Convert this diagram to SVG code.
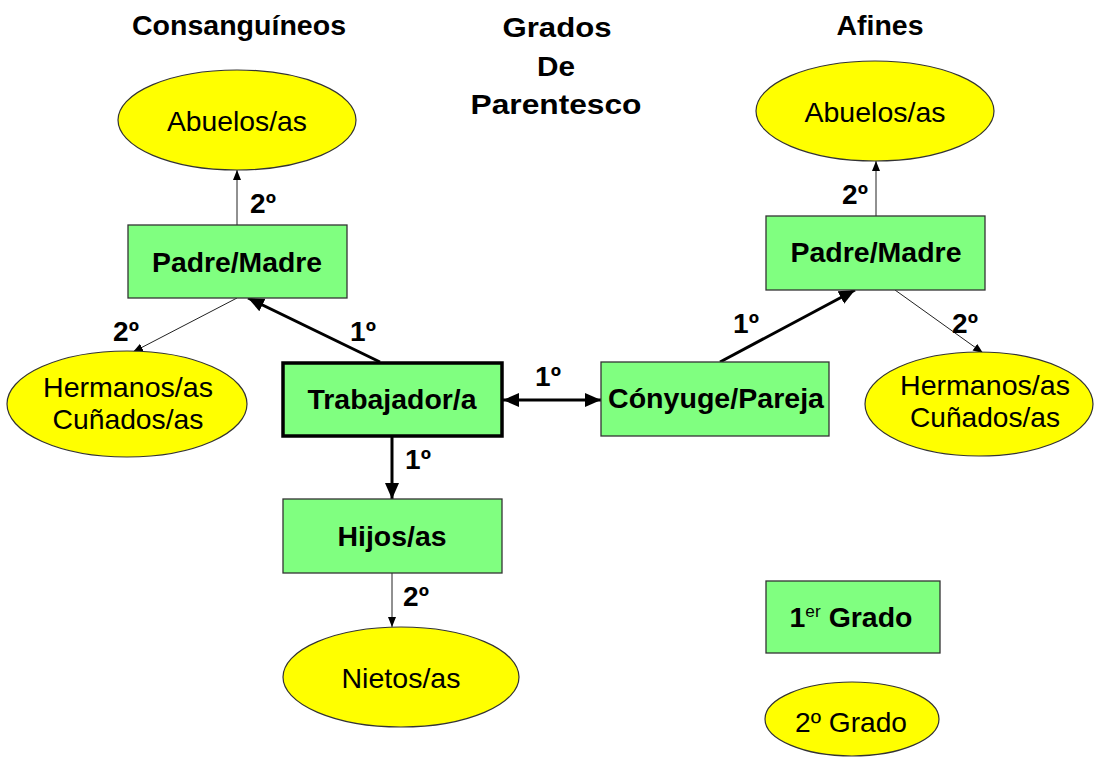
<svg xmlns="http://www.w3.org/2000/svg" width="1096" height="760" viewBox="0 0 1096 760">
<style>
text{font-family:"Liberation Sans",Arial,sans-serif;fill:#000;text-anchor:middle}
.t{font-size:28px;font-weight:bold}
.n{font-size:28px}
.nb{font-size:28px;font-weight:bold}
.lb{font-size:28px;font-weight:bold}
.box{fill:#80FF80;stroke:#333;stroke-width:1.3}
.ell{fill:#FFFF00;stroke:#333;stroke-width:1.2}
.thin{stroke:#222;stroke-width:1;fill:none}
.thick{stroke:#000;stroke-width:3;fill:none}
</style>
<defs>
<marker id="ah" markerUnits="userSpaceOnUse" markerWidth="12" markerHeight="10" refX="10" refY="4" orient="auto"><path d="M0,0 L10,4 L0,8 z" fill="#000"/></marker>
<marker id="AH" markerUnits="userSpaceOnUse" markerWidth="18" markerHeight="16" refX="16" refY="7" orient="auto-start-reverse"><path d="M0,0 L16,7 L0,14 z" fill="#000"/></marker>
</defs>
<rect width="1096" height="760" fill="#fff"/>
<g id="titles">
<text class="t" x="239" y="35" textLength="214" lengthAdjust="spacingAndGlyphs">Consanguíneos</text>
<text class="t" x="557" y="37" textLength="109" lengthAdjust="spacingAndGlyphs">Grados</text>
<text class="t" x="556" y="76" textLength="38" lengthAdjust="spacingAndGlyphs">De</text>
<text class="t" x="556" y="114" textLength="171" lengthAdjust="spacingAndGlyphs">Parentesco</text>
<text class="t" x="880" y="35" textLength="87" lengthAdjust="spacingAndGlyphs">Afines</text>
</g>
<g id="connectors">
<path class="thin" d="M237,225 L237,170" marker-end="url(#ah)"/>
<path class="thin" d="M237,298 L133,352" marker-end="url(#ah)"/>
<path class="thick" d="M380,362 L248,298" marker-end="url(#AH)"/>
<path class="thick" d="M503,400 L601,400" marker-start="url(#AH)" marker-end="url(#AH)"/>
<path class="thick" d="M392,437 L392,499" marker-end="url(#AH)"/>
<path class="thin" d="M392,573 L392,627" marker-end="url(#ah)"/>
<path class="thick" d="M720,362 L855,290" marker-end="url(#AH)"/>
<path class="thin" d="M876,216 L876,161" marker-end="url(#ah)"/>
<path class="thin" d="M895,290 L983,353" marker-end="url(#ah)"/>
<text class="lb" x="263" y="213">2º</text>
<text class="lb" x="126" y="341">2º</text>
<text class="lb" x="363" y="341">1º</text>
<text class="lb" x="548" y="386">1º</text>
<text class="lb" x="418" y="469">1º</text>
<text class="lb" x="416" y="606">2º</text>
<text class="lb" x="855" y="204">2º</text>
<text class="lb" x="746" y="333">1º</text>
<text class="lb" x="965" y="333">2º</text>
</g>
<g id="abuelos-c"><ellipse class="ell" cx="237" cy="120" rx="119" ry="50"/><text class="n" x="237" y="131" textLength="140" lengthAdjust="spacingAndGlyphs">Abuelos/as</text></g>
<g id="padre-c"><rect class="box" x="128" y="225" width="219" height="73"/><text class="nb" x="237" y="272" textLength="170" lengthAdjust="spacingAndGlyphs">Padre/Madre</text></g>
<g id="hermanos-c"><ellipse class="ell" cx="127" cy="404" rx="120" ry="53"/><text class="n" x="128" y="397" textLength="170" lengthAdjust="spacingAndGlyphs">Hermanos/as</text><text class="n" x="128" y="429" textLength="151" lengthAdjust="spacingAndGlyphs">Cuñados/as</text></g>
<g id="trabajador"><rect x="283" y="363" width="219" height="73" fill="#80FF80" stroke="#000" stroke-width="3.5"/><text class="nb" x="392" y="409" textLength="169" lengthAdjust="spacingAndGlyphs">Trabajador/a</text></g>
<g id="conyuge"><rect class="box" x="601" y="362" width="228" height="74"/><text class="nb" x="716" y="408" textLength="216" lengthAdjust="spacingAndGlyphs">Cónyuge/Pareja</text></g>
<g id="hijos"><rect class="box" x="283" y="499" width="219" height="74"/><text class="nb" x="392" y="546" textLength="109" lengthAdjust="spacingAndGlyphs">Hijos/as</text></g>
<g id="nietos"><ellipse class="ell" cx="401" cy="677" rx="118" ry="50"/><text class="n" x="401" y="688" textLength="119" lengthAdjust="spacingAndGlyphs">Nietos/as</text></g>
<g id="abuelos-a"><ellipse class="ell" cx="875" cy="111" rx="119" ry="50"/><text class="n" x="875" y="122" textLength="141" lengthAdjust="spacingAndGlyphs">Abuelos/as</text></g>
<g id="padre-a"><rect class="box" x="766" y="216" width="219" height="74"/><text class="nb" x="876" y="262" textLength="171" lengthAdjust="spacingAndGlyphs">Padre/Madre</text></g>
<g id="hermanos-a"><ellipse class="ell" cx="979" cy="404" rx="114" ry="52"/><text class="n" x="985" y="395" textLength="170" lengthAdjust="spacingAndGlyphs">Hermanos/as</text><text class="n" x="985" y="427" textLength="150" lengthAdjust="spacingAndGlyphs">Cuñados/as</text></g>
<g id="legend-1"><rect class="box" x="766" y="581" width="174" height="72"/><text class="nb" x="851" y="627" textLength="123" lengthAdjust="spacingAndGlyphs"><tspan>1</tspan><tspan font-size="17" font-weight="normal" dy="-10">er</tspan><tspan dy="10"> Grado</tspan></text></g>
<g id="legend-2"><ellipse class="ell" cx="852" cy="719" rx="87" ry="37"/><text class="n" x="851" y="732" textLength="112" lengthAdjust="spacingAndGlyphs">2º Grado</text></g>
</svg>
